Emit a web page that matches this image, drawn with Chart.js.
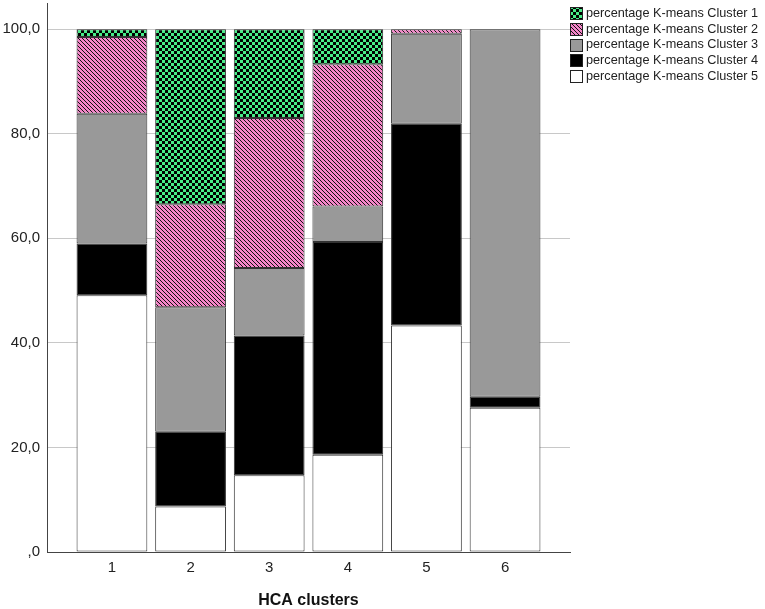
<!DOCTYPE html>
<html><head><meta charset="utf-8">
<script src="https://cdn.jsdelivr.net/npm/chart.js@4.4.0/dist/chart.umd.min.js"></script>
<style>html,body{margin:0;padding:0;background:#fff;} #wrap{position:relative;width:765px;height:609px;}</style>
</head><body><div id="wrap"><canvas id="c" width="765" height="609"></canvas></div>
<script>
// ---- data ----
const categories = [1, 2, 3, 4, 5, 6];
const seriesNames = [
  'percentage K-means Cluster 1',
  'percentage K-means Cluster 2',
  'percentage K-means Cluster 3',
  'percentage K-means Cluster 4',
  'percentage K-means Cluster 5'
];
const cluster1 = [1.5, 33.5, 17.0, 6.7, 0, 0];
const cluster2 = [14.7, 19.7, 28.7, 27.2, 0.9, 0];
const cluster3 = [24.8, 23.8, 12.9, 6.8, 17.2, 70.3];
const cluster4 = [9.9, 14.3, 26.7, 40.7, 38.6, 2.1];
const cluster5 = [49.1, 8.7, 14.7, 18.6, 43.3, 27.6];
const yTicks = [0, 20, 40, 60, 80, 100];
const xTitle = 'HCA clusters';

// ---- fills ----
function checker() {
  const c = document.createElement('canvas'); c.width = 6; c.height = 6;
  const x = c.getContext('2d');
  x.fillStyle = '#000'; x.fillRect(0, 0, 6, 6);
  x.fillStyle = '#48ec88'; x.fillRect(0, 0, 3, 3); x.fillRect(3, 3, 3, 3);
  return x.createPattern(c, 'repeat');
}
function hatch() {
  const n = 4;
  const c = document.createElement('canvas'); c.width = n; c.height = n;
  const x = c.getContext('2d');
  for (let yy = 0; yy < n; yy++) for (let xx = 0; xx < n; xx++) {
    const k = ((xx - yy) % n + n) % n;
    x.fillStyle = k === 0 ? '#111' : '#f585c8';
    x.fillRect(xx, yy, 1, 1);
  }
  return x.createPattern(c, 'repeat');
}
const fills = [checker(), hatch(), '#999999', '#000000', '#ffffff'];
const seriesData = [cluster1, cluster2, cluster3, cluster4, cluster5];

Chart.defaults.font.family = '"Liberation Sans", Arial, sans-serif';
Chart.defaults.color = '#222';

// stack bottom -> top: cluster 5, 4, 3, 2, 1
const datasets = [4, 3, 2, 1, 0].map(i => ({
  label: seriesNames[i],
  data: categories.map((c, j) => ({ x: c, y: seriesData[i][j] > 0 ? seriesData[i][j] : null })),
  backgroundColor: fills[i],
  borderColor: '#333',
  borderWidth: 1,
  borderSkipped: false,
  barPercentage: 0.9,
  categoryPercentage: 1.0
}));

const legendPlugin = {
  id: 'customLegend',
  afterDraw(chart) {
    const ctx = chart.ctx;
    ctx.save();
    ctx.font = '12.7px "Liberation Sans", Arial, sans-serif';
    ctx.textBaseline = 'middle';
    ctx.textAlign = 'left';
    for (let i = 0; i < seriesNames.length; i++) {
      const yc = 13.3 + i * 15.7;
      const bx = 570, by = Math.round(yc - 6) + 0.5;
      ctx.fillStyle = fills[i];
      ctx.fillRect(bx, by, 13, 12);
      ctx.strokeStyle = '#222'; ctx.lineWidth = 1;
      ctx.strokeRect(bx + 0.5, by, 12, 12);
      ctx.fillStyle = '#222';
      ctx.fillText(seriesNames[i], 586, yc);
    }
    ctx.restore();
  }
};

new Chart(document.getElementById('c'), {
  type: 'bar',
  data: { datasets },
  options: {
    responsive: false,
    animation: false,
    layout: { padding: { top: 3, right: 195, left: 0, bottom: 0 } },
    plugins: { legend: { display: false }, tooltip: { enabled: false } },
    scales: {
      x: {
        type: 'linear', stacked: true, offset: false,
        min: 0.174, max: 6.826,
        afterBuildTicks: s => { s.ticks = categories.map(v => ({ value: v })); },
        afterFit: s => { s.height = 57; s.paddingLeft = 0; s.paddingRight = 0; },
        grid: { display: false, drawTicks: false },
        border: { display: true, color: '#444', width: 1 },
        ticks: { font: { size: 15 }, color: '#222', padding: 7, callback: v => String(v) },
        title: { display: true, text: xTitle, color: '#111', font: { size: 16, weight: 'bold', lineHeight: 1 }, padding: { top: 0, bottom: 0 } }
      },
      y: {
        stacked: true, min: 0, max: 105,
        afterBuildTicks: s => { s.ticks = yTicks.map(v => ({ value: v })); },
        afterFit: s => { s.width = 47; s.paddingTop = 0; s.paddingBottom = 0; },
        grid: { color: '#c8c8c8', lineWidth: 1, drawTicks: false },
        border: { display: true, color: '#444', width: 1 },
        ticks: { font: { size: 15 }, color: '#222', padding: 7,
          callback: v => v === 0 ? ',0' : v.toFixed(1).replace('.', ',') }
      }
    }
  },
  plugins: [legendPlugin]
});
</script>
</body></html>
